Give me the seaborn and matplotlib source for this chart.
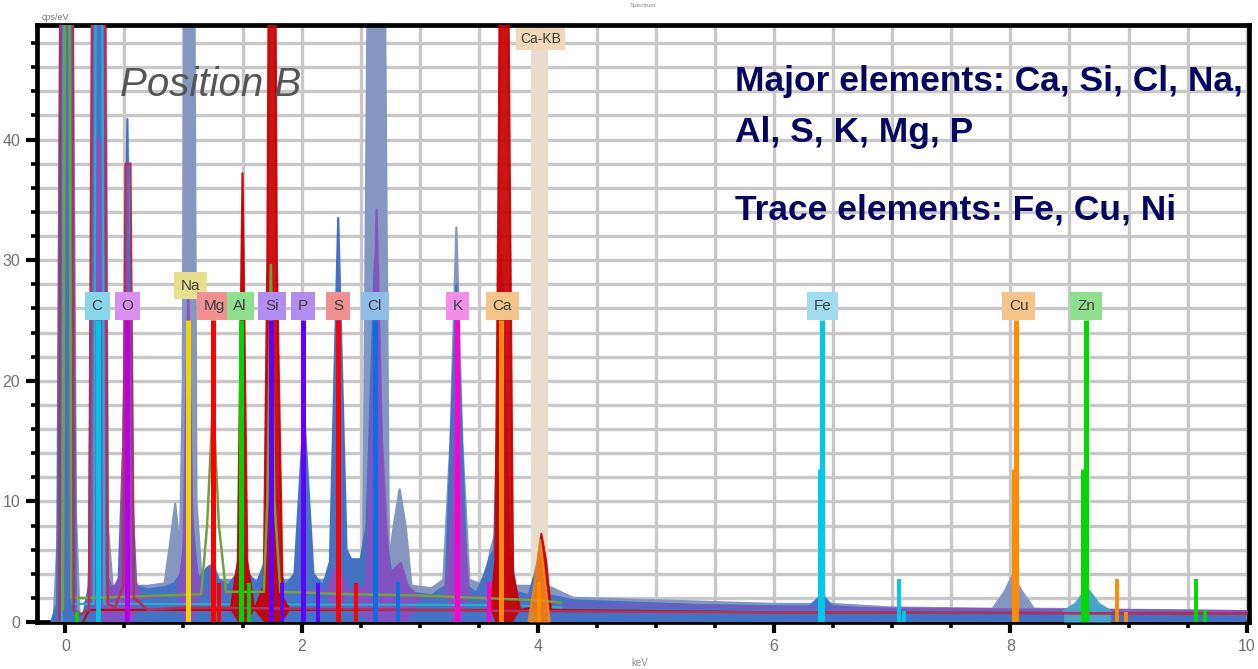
import matplotlib
matplotlib.use("Agg")
import matplotlib.pyplot as plt
from matplotlib.ticker import MultipleLocator
import seaborn as sns

# ---------------- data ----------------
# energies in keV, intensities in cps
blue_E = [-0.12, -0.07, -0.04, 0.05, 0.09, 0.15, 0.20, 0.24, 0.31, 0.35, 0.40, 0.45, 0.49, 0.525, 0.56,
          0.60, 0.70, 0.85, 0.92, 0.98, 1.03, 1.07, 1.12, 1.20, 1.25, 1.30, 1.38, 1.45, 1.50, 1.55, 1.62,
          1.69, 1.74, 1.79, 1.86, 1.94, 2.02, 2.10, 2.18, 2.24, 2.31, 2.38, 2.42, 2.50, 2.55, 2.62, 2.70,
          2.76, 2.82, 2.88, 2.96, 3.10, 3.22, 3.31, 3.40, 3.48, 3.55, 3.59, 3.63, 3.69, 3.76, 3.82, 3.92,
          4.01, 4.10, 4.30, 4.80, 5.40, 6.00, 6.30, 6.40, 6.50, 7.00, 8.00, 9.00, 10.0]
blue_C = [0, 1.5, 60, 60, 1.0, 0.5, 3, 60, 60, 4, 2.5, 3, 15, 41.7, 12,
          3, 2.7, 2.9, 3.2, 4, 9, 9, 3.5, 4.5, 4.8, 3.5, 3.0, 4, 7.6, 4, 3.2,
          5, 12, 5, 3.0, 4, 17.5, 4, 3.0, 5, 33.5, 6, 5.2, 5.2, 8, 30, 8,
          4, 4.5, 3, 2.4, 2.2, 3, 28, 3, 2.4, 4, 5.3, 6, 30.4, 6, 2.5, 2.2,
          5, 2.2, 1.8, 1.6, 1.4, 1.3, 1.3, 2.2, 1.3, 1.0, 0.9, 0.8, 0.8]

grey_E = [-0.10, -0.06, -0.04, 0.06, 0.09, 0.12, 0.19, 0.22, 0.235, 0.34, 0.36, 0.40, 0.47, 0.50, 0.53,
          0.57, 0.70, 0.84, 0.88, 0.93, 0.97, 0.995, 1.01, 1.09, 1.11, 1.15, 1.30, 1.45, 1.50, 1.55,
          1.70, 1.74, 1.78, 2.00, 2.02, 2.06, 2.25, 2.31, 2.37, 2.52, 2.565, 2.70, 2.74, 2.78, 2.83,
          2.88, 2.93, 3.10, 3.20, 3.26, 3.31, 3.36, 3.42, 3.55, 3.60, 3.66, 3.69, 3.73, 3.80, 3.95,
          4.01, 4.08, 4.30, 5.00, 6.00, 6.35, 6.40, 6.47, 7.00, 7.85, 7.95, 8.02, 8.10, 8.20, 10.0]
grey_C = [0, 8, 60, 60, 9, 0.5, 1, 10, 60, 60, 8, 3, 3, 20, 20,
          3, 3.0, 3.2, 6, 9.8, 6, 20, 60, 60, 10, 4, 3.5, 3.5, 6, 3.5,
          3.5, 8, 3.5, 3.5, 10, 3.5, 3.5, 15, 3.5, 4, 60, 60, 5, 8, 11,
          8, 3, 2.8, 3.5, 15, 32.7, 15, 3.5, 3, 6, 8, 10, 8, 3, 3,
          5.5, 3, 2.0, 1.8, 1.5, 1.5, 2.5, 1.5, 1.2, 1.1, 2.5, 3.9, 2.5, 1.1, 0.9]

purple_E = [0.15, 0.22, 0.26, 0.30, 0.34, 0.42, 0.47, 0.52, 0.57, 0.65, 0.95, 1.00, 1.04, 1.08, 1.15,
            1.45, 1.50, 1.55, 1.70, 1.74, 1.79, 2.20, 2.31, 2.40, 2.55, 2.59, 2.635, 2.68, 2.74, 2.84,
            2.90, 3.00, 3.22, 3.28, 3.31, 3.35, 3.42, 3.60, 3.66, 3.69, 3.73, 3.80, 4.20, 6.00, 10.0]
purple_C = [1.5, 2, 40, 40, 3, 3, 4, 30, 4, 2.0, 2.2, 6, 28, 6, 2.5,
            2.5, 5, 2.5, 2.5, 8, 2.5, 2.5, 5, 2.5, 3, 15, 34.2, 15, 4, 4.9,
            3, 2, 2.2, 10, 20, 10, 2.2, 2, 6, 10, 6, 2, 1.5, 1.2, 0.9]

red_E = [0.15, 0.20, 1.40, 1.46, 1.50, 1.54, 1.60, 1.68, 1.71, 1.725, 1.775, 1.79, 1.84, 1.90, 3.60,
         3.64, 3.67, 3.68, 3.745, 3.76, 3.79, 3.85, 3.96, 4.00, 4.03, 4.07, 4.11, 6.00, 10.0]
red_C = [0, 1.0, 1.0, 5, 37.2, 5, 1.0, 3, 30, 60, 60, 30, 2, 1.0, 1.0,
         5, 40, 60, 60, 40, 4, 1.0, 1.2, 5, 7.3, 5, 1.0, 0.8, 0.7]

olive_E = [-0.02, 0.00, 0.03, 0.05, 0.20, 1.15, 1.20, 1.25, 1.30, 1.36, 1.68, 1.71, 1.74, 1.77, 1.82,
           2.40, 3.00, 3.50, 4.00, 4.20]
olive_C = [1, 60, 60, 2, 2, 2.3, 8, 18.4, 8, 2.5, 2.5, 10, 29.6, 10, 2.5,
           2.3, 2.2, 2.0, 1.8, 1.6]

crimson_E = [-0.05, -0.04, 0.06, 0.07, 0.10, 0.20, 0.23, 0.33, 0.36, 0.42, 0.49, 0.51, 0.55, 0.58, 0.70,
             1.00, 2.00, 3.00, 4.00, 6.00, 10.0]
crimson_C = [0, 60, 60, 1, 0.5, 1, 60, 60, 1.5, 1.2, 3, 38, 38, 2, 1.0,
             1.2, 1.1, 1.0, 0.9, 0.8, 0.7]

teal_E = [-0.03, -0.01, 0.04, 0.06, 0.24, 0.26, 0.31, 0.33, 0.60, 3.80, 4.20]
teal_C = [0, 60, 60, 1.5, 1.5, 60, 60, 1.5, 1.5, 1.4, 1.2]

zn_E = [8.45, 8.55, 8.65, 8.75, 8.85]
zn_C = [0.9, 1.5, 2.8, 1.5, 0.9]

orange_E = [3.92, 3.97, 4.02, 4.06, 4.10]
orange_C = [0, 3, 6.8, 3.5, 0]

# element marker lines: energy, height, colour
mark_E = [0.277, 0.525, 1.041, 1.254, 1.302, 1.487, 1.557, 1.740, 1.836, 2.013, 2.139, 2.307, 2.464,
          2.622, 2.815, 3.313, 3.589, 3.691, 4.012, 6.403, 6.385, 7.057, 7.10, 8.047, 8.027, 8.904,
          8.975, 8.638, 8.615, 9.571, 9.65, 0.10]
mark_H = [25, 25, 25, 25, 3.2, 25, 3.2, 25, 3.2, 25, 3.2, 25, 3.2,
          25, 3.3, 25, 3.3, 25, 3.3, 25, 12.7, 3.6, 0.9, 25, 12.7, 3.6,
          0.8, 25, 12.7, 3.6, 1.0, 0.8]
mark_col = ["#00c4e4", "#b800f0", "#f2d200", "#ff0000", "#ff0000", "#00d400", "#00d400", "#6000ff",
            "#6000ff", "#6000ff", "#6000ff", "#ff0000", "#ff0000", "#0a6ee6", "#0a6ee6", "#ff00d0",
            "#ff00d0", "#ff8c00", "#ff8c00", "#00c8e8", "#00c8e8", "#00c8e8", "#00c8e8", "#ff8c00",
            "#ff8c00", "#ff8c00", "#ff8c00", "#00d800", "#00d800", "#00d800", "#00d800", "#00d800"]

# element labels
lab_text = ["C", "O", "Na", "Mg", "Al", "Si", "P", "S", "Cl", "K", "Ca", "Fe", "Cu", "Zn"]
lab_E = [0.27, 0.525, 1.06, 1.26, 1.48, 1.75, 2.01, 2.31, 2.62, 3.32, 3.70, 6.41, 8.07, 8.64]
lab_Y = [26.2, 26.2, 27.9, 26.2, 26.2, 26.2, 26.2, 26.2, 26.2, 26.2, 26.2, 26.2, 26.2, 26.2]
lab_bg = ["#88d6e8", "#d890f0", "#e8e08e", "#f09090", "#8ee08e", "#b08ef0", "#b08ef0", "#f09090",
          "#90bce8", "#f090e6", "#f5c48a", "#a0dcf0", "#f5c48a", "#8ee08e"]

# --------------- figure -----------------
sns.set_theme(style="white")
plt.rcParams["font.family"] = ["Liberation Sans", "DejaVu Sans"]

fig = plt.figure(figsize=(12.58, 6.69), dpi=100)
ax = fig.add_axes([37 / 1258, 1 - 622 / 669, (1249 - 37) / 1258, (622 - 25) / 669])
ax.set_xlim(-0.24, 10.02)
ax.set_ylim(0, 49.5)

ax.xaxis.set_major_locator(MultipleLocator(2))
ax.xaxis.set_minor_locator(MultipleLocator(0.5))
ax.yaxis.set_major_locator(MultipleLocator(10))
ax.yaxis.set_minor_locator(MultipleLocator(2))
ax.set_axisbelow(True)
ax.grid(True, which="both", color="#c8c8c8", lw=2.4)

for s in ax.spines.values():
    s.set_color("black")
    s.set_linewidth(3.4)
    s.set_visible(True)
ax.tick_params(which="major", direction="out", length=8, width=3, color="black",
               labelsize=11.5, labelcolor="#707070", pad=4, left=True, bottom=True)
ax.tick_params(which="minor", direction="out", length=4, width=2.6, color="black", left=True, bottom=True)

# Ca-KB band
ax.axvspan(3.94, 4.09, ymin=0, ymax=47.5 / 49.5, color="#e8dccd", lw=0, zorder=1)


def spectrum(E, C, color, z, alpha=1.0, fill=True, lw=1.6, thresh=None):
    if fill:
        where = None if thresh is None else [c > thresh for c in C]
        ax.fill_between(E, C, where=where, interpolate=True, color=color, alpha=alpha, lw=0, zorder=z)
    sns.lineplot(x=E, y=C, ax=ax, color=color, lw=lw, alpha=alpha, zorder=z,
                 estimator=None, sort=False, legend=False)


spectrum(grey_E, grey_C, "#8597c0", 2)
spectrum(blue_E, blue_C, "#4472c4", 3)
spectrum(purple_E, purple_C, "#8a50c0", 4, alpha=0.9, thresh=2.6)
spectrum(zn_E, zn_C, "#4aa3c9", 4)
spectrum(teal_E, teal_C, "#30a8c8", 4.5, fill=False, lw=1.6)
spectrum(red_E, red_C, "#c80000", 5, alpha=0.92, thresh=1.3)
spectrum(olive_E, olive_C, "#72a040", 5.5, fill=False, lw=1.8)
spectrum(crimson_E, crimson_C, "#b4305a", 6, fill=False, lw=1.8)
spectrum(orange_E, orange_C, "#f08a1e", 6.5, alpha=0.85)

# element markers
for e, h, c in zip(mark_E, mark_H, mark_col):
    lw = 3.6 if h >= 12 else 2.8
    ax.vlines(e, 0, h, colors=c, lw=lw, zorder=8)

for t, x, y, bg in zip(lab_text, lab_E, lab_Y, lab_bg):
    ax.text(x, y, t, ha="center", va="center", fontsize=11, color="#3c3c3c", zorder=9,
            bbox=dict(boxstyle="square,pad=0.45", fc=bg, ec="none"))
ax.text(4.02, 48.35, "Ca-KB", ha="center", va="center", fontsize=10, color="#3c3c3c", zorder=9,
        bbox=dict(boxstyle="square,pad=0.3", fc="#eed8b8", ec="none"))

# annotations
ax.text(0.466, 43.6, "Position B", fontsize=29, style="italic", color="#555555",
        va="baseline", ha="left", zorder=10)
navy = "#06065e"
ax.text(5.67, 44.0, "Major elements: Ca, Si, Cl, Na,", fontsize=25.5, weight="bold", color=navy,
        va="baseline", ha="left", zorder=10)
ax.text(5.67, 39.8, "Al, S, K, Mg, P", fontsize=25.5, weight="bold", color=navy,
        va="baseline", ha="left", zorder=10)
ax.text(5.67, 33.4, "Trace elements: Fe, Cu, Ni", fontsize=25.5, weight="bold", color=navy,
        va="baseline", ha="left", zorder=10)

ax.set_xlabel("")
ax.set_ylabel("")
fig.text(42 / 1258, 1 - 17 / 669, "cps/eV", fontsize=6.5, color="#777777", ha="left", va="center")
fig.text(640 / 1258, 1 - 663 / 669, "keV", fontsize=7, color="#888888", ha="center", va="center")
fig.text(643 / 1258, 1 - 5 / 669, "Spectrum", fontsize=4.5, color="#888888", ha="center", va="center")

fig.savefig("out.png", dpi=100)
